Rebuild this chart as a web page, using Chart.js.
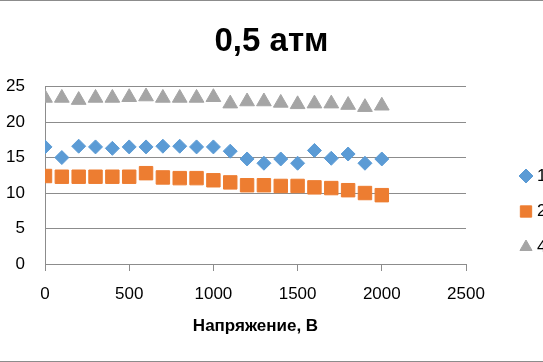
<!DOCTYPE html>
<html>
<head>
<meta charset="utf-8">
<script src="https://cdn.jsdelivr.net/npm/chart.js@4/dist/chart.umd.min.js"></script>
<style>
  html, body { margin: 0; padding: 0; background: #fff; overflow: hidden; }
  #wrap { width: 543px; height: 362px; box-sizing: border-box; border-top: 1px solid #8c8c8c; border-bottom: 1px solid #8c8c8c; }
  canvas { display: block; }
</style>
</head>
<body>
<div id="wrap"><canvas id="chart" width="543" height="360"></canvas></div>
<script>
// Données
const voltages = [0, 100, 200, 300, 400, 500, 600, 700, 800, 900, 1000, 1100, 1200, 1300, 1400, 1500, 1600, 1700, 1800, 1900, 2000];
const series1 = [16.5, 15.0, 16.6, 16.5, 16.3, 16.5, 16.5, 16.6, 16.6, 16.5, 16.5, 15.9, 14.8, 14.2, 14.8, 14.2, 16.0, 14.9, 15.5, 14.2, 14.8];
const series2 = [12.4, 12.3, 12.3, 12.3, 12.3, 12.3, 12.8, 12.2, 12.1, 12.1, 11.8, 11.5, 11.1, 11.1, 11.0, 11.0, 10.8, 10.7, 10.4, 10.0, 9.7];
const series4 = [23.4, 23.4, 23.1, 23.4, 23.4, 23.5, 23.6, 23.4, 23.4, 23.4, 23.5, 22.6, 22.9, 22.9, 22.7, 22.5, 22.6, 22.6, 22.4, 22.1, 22.3];
const seriesNames = ['1', '2', '4'];
const xTicks = [0, 500, 1000, 1500, 2000, 2500];
const yTicks = [0, 5, 10, 15, 20, 25];

const font = 'Liberation Sans';
const gridColor = '#8c8c8c';

function toPoints(values) {
    return voltages.map((v, i) => ({ x: v, y: values[i] }));
}

const datasets = [
    { label: seriesNames[0], data: toPoints(series1), pointStyle: 'rectRot', pointRadius: 7, backgroundColor: '#5b9bd5', borderColor: '#5b9bd5' },
    { label: seriesNames[1], data: toPoints(series2), pointStyle: 'rect', pointRadius: 9.5, backgroundColor: '#ed7d31', borderColor: '#ed7d31' },
    { label: seriesNames[2], data: toPoints(series4), pointStyle: 'triangle', pointRadius: 8.5, backgroundColor: '#a5a5a5', borderColor: '#a5a5a5' }
];
datasets.forEach(d => { d.borderWidth = 1; d.showLine = false; d.pointHoverRadius = d.pointRadius; });

// Légende à droite : une boîte de layout de largeur fixe (coupée comme sur l'original)
const sideLegend = {
    id: 'sideLegend',
    beforeInit(chart) {
        const box = {
            position: 'right',
            weight: 0,
            fullSize: false,
            options: {},
            top: 0, left: 0, right: 0, bottom: 0, width: 0, height: 0,
            isHorizontal() { return false; },
            update(maxWidth, maxHeight) { this.width = 77; this.height = maxHeight; return { width: 77, height: maxHeight }; },
            draw() {
                const ctx = chart.ctx;
                ctx.save();
                chart.data.datasets.forEach((ds, i) => {
                    const y = 175 + i * 35.5;
                    ctx.fillStyle = ds.backgroundColor;
                    ctx.strokeStyle = ds.borderColor;
                    ctx.lineWidth = 1;
                    Chart.helpers.drawPoint(ctx, { pointStyle: ds.pointStyle, radius: ds.pointStyle === 'rect' ? 8 : 7, rotation: 0, borderWidth: 1 }, 526, y);
                    ctx.fillStyle = '#000';
                    ctx.font = '17px "' + font + '"';
                    ctx.textBaseline = 'middle';
                    ctx.fillText(ds.label, 537, y);
                });
                ctx.restore();
            }
        };
        Chart.layouts.addBox(chart, box);
    }
};

new Chart(document.getElementById('chart'), {
    type: 'scatter',
    data: { datasets },
    plugins: [sideLegend],
    options: {
        responsive: false,
        animation: false,
        layout: { padding: 0 },
        plugins: {
            legend: { display: false },
            tooltip: { enabled: false },
            title: {
                display: true,
                text: '0,5 атм',
                color: '#000',
                font: { family: font, size: 33, weight: 'bold' },
                padding: { top: 21, bottom: 25 }
            }
        },
        scales: {
            x: {
                type: 'linear',
                min: 0,
                max: 2500,
                afterBuildTicks: s => { s.ticks = xTicks.map(v => ({ value: v })); },
                afterFit: s => { s.height = 97; },
                grid: { drawOnChartArea: false, drawTicks: true, tickLength: 7, color: gridColor },
                border: { display: true, color: gridColor, width: 1 },
                ticks: { color: '#000', font: { family: font, size: 17 }, padding: 13, maxRotation: 0, callback: v => String(v) },
                title: {
                    display: true,
                    text: 'Напряжение, В',
                    color: '#000',
                    font: { family: font, size: 17, weight: 'bold' },
                    padding: { top: 0, bottom: 24 }
                }
            },
            y: {
                min: 0,
                max: 25,
                afterBuildTicks: s => { s.ticks = yTicks.map(v => ({ value: v })); },
                afterFit: s => { s.width = 45; },
                grid: { color: gridColor, drawTicks: false, lineWidth: 1 },
                border: { display: true, color: gridColor, width: 1 },
                ticks: { color: '#000', font: { family: font, size: 17 }, padding: 20, callback: v => String(v) }
            }
        }
    }
});
</script>
</body>
</html>
